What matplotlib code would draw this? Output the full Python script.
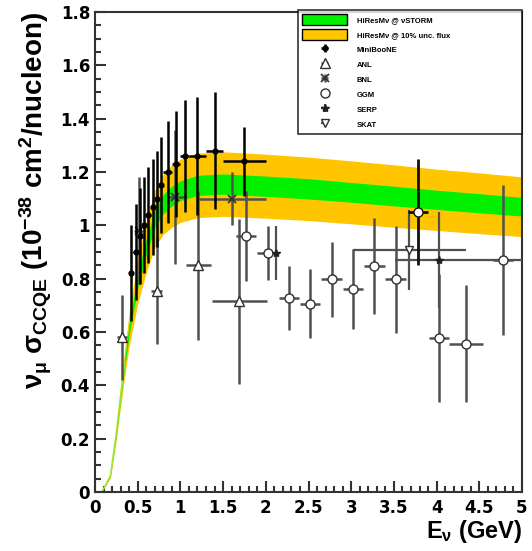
import matplotlib
matplotlib.use("Agg")
import matplotlib.pyplot as plt
from matplotlib.patches import Patch
from matplotlib.ticker import MultipleLocator

plt.rcParams['font.family'] = ['Liberation Sans', 'DejaVu Sans']
plt.rcParams['mathtext.fontset'] = 'custom'
plt.rcParams['mathtext.rm'] = 'Liberation Sans:bold'
plt.rcParams['mathtext.bf'] = 'Liberation Sans:bold'
plt.rcParams['mathtext.it'] = 'Liberation Sans:bold'

# ---- model bands (HiResMnu) ----
band_E = [0.08, 0.18, 0.25, 0.3, 0.35, 0.4, 0.5, 0.6, 0.7, 0.8, 0.9, 1.0, 1.2, 1.5, 2.0, 2.5, 3.0, 3.5, 4.0, 4.5, 5.0]
green_lo = [0, 0.058, 0.213, 0.348, 0.474, 0.590, 0.764, 0.890, 0.991, 1.044, 1.073, 1.093, 1.112, 1.117, 1.109, 1.099, 1.087, 1.073, 1.060, 1.047, 1.035]
green_hi = [0, 0.062, 0.227, 0.372, 0.506, 0.630, 0.816, 0.950, 1.059, 1.116, 1.147, 1.167, 1.188, 1.193, 1.185, 1.175, 1.161, 1.147, 1.132, 1.119, 1.105]
orange_lo = [0, 0.054, 0.197, 0.322, 0.439, 0.546, 0.707, 0.823, 0.917, 0.967, 0.993, 1.011, 1.029, 1.034, 1.027, 1.018, 1.006, 0.993, 0.981, 0.969, 0.958]
orange_hi = [0, 0.066, 0.243, 0.398, 0.541, 0.674, 0.873, 1.017, 1.133, 1.193, 1.227, 1.249, 1.271, 1.276, 1.267, 1.256, 1.242, 1.227, 1.211, 1.197, 1.182]

# ---- MiniBooNE ----
mb_E = [0.425, 0.475, 0.525, 0.575, 0.625, 0.675, 0.725, 0.775, 0.85, 0.95, 1.05, 1.2, 1.4, 1.75]
mb_v = [0.82, 0.90, 0.96, 1.00, 1.04, 1.07, 1.10, 1.15, 1.20, 1.23, 1.26, 1.26, 1.28, 1.24]
mb_xerr = [0.025, 0.025, 0.025, 0.025, 0.025, 0.025, 0.025, 0.025, 0.05, 0.05, 0.05, 0.1, 0.1, 0.25]
mb_yerr = [0.18, 0.18, 0.18, 0.18, 0.18, 0.18, 0.18, 0.18, 0.19, 0.20, 0.21, 0.22, 0.22, 0.13]

# ---- ANL ----
anl_E = [0.32, 0.72, 1.21, 1.69]
anl_v = [0.58, 0.755, 0.85, 0.715]
anl_xerr = [0.06, 0.07, 0.15, 0.32]
anl_yerr = [0.16, 0.20, 0.28, 0.31]

# ---- BNL ----
bnl_E = [0.51, 0.94, 1.6]
bnl_v = [0.98, 1.107, 1.10]
bnl_xerr = [0.05, 0.1, 0.4]
bnl_yerr = [0.2, 0.25, 0.10]

# ---- GGM ----
ggm_E = [1.77, 2.02, 2.27, 2.52, 2.77, 3.02, 3.27, 3.52, 4.03, 4.34, 4.78]
ggm_v = [0.96, 0.897, 0.728, 0.706, 0.798, 0.76, 0.849, 0.798, 0.576, 0.557, 0.87]
ggm_xerr = [0.12, 0.12, 0.12, 0.12, 0.12, 0.12, 0.12, 0.12, 0.12, 0.2, 0.12]
ggm_yerr = [0.17, 0.10, 0.12, 0.13, 0.14, 0.15, 0.18, 0.20, 0.24, 0.22, 0.28]
ggm_hi_E = [3.78]
ggm_hi_v = [1.05]
ggm_hi_xerr = [0.12]
ggm_hi_yerr = [0.20]

# ---- SERP ----
serp_E = [2.12, 4.03]
serp_v = [0.897, 0.87]
serp_xerr = [[0.0, 0.52], [0.0, 0.97]]
serp_yerr = [0.10, 0.18]

# ---- SKAT ----
skat_E = [3.68]
skat_v = [0.907]
skat_xerr = [0.66]
skat_yerr = [0.15]

labels = ["HiResM\u03bd @ \u03bdSTORM", "HiResM\u03bd @ 10% unc. flux", "MiniBooNE", "ANL", "BNL", "GGM", "SERP", "SKAT"]
x_ticks = [0, 0.5, 1, 1.5, 2, 2.5, 3, 3.5, 4, 4.5, 5]
x_ticklabels = ['0', '0.5', '1', '1.5', '2', '2.5', '3', '3.5', '4', '4.5', '5']
y_ticks = [0, 0.2, 0.4, 0.6, 0.8, 1.0, 1.2, 1.4, 1.6, 1.8]
y_ticklabels = ['0', '0.2', '0.4', '0.6', '0.8', '1', '1.2', '1.4', '1.6', '1.8']

fig = plt.figure(figsize=(5.32, 5.51), dpi=100)
ax = fig.add_axes([0.1786, 0.107, 0.8026, 0.8711])

orange = '#FFC600'
green = '#00F000'
ax.fill_between(band_E, orange_lo, orange_hi, color=orange, lw=0, zorder=1)
ax.fill_between(band_E, green_lo, green_hi, color=green, lw=0, zorder=2)
ax.plot(band_E[:5], [(a + b) / 2 for a, b in zip(green_lo[:5], green_hi[:5])], color='#9AE63A', lw=1.2, zorder=2)

gray = '#505050'
mk = dict(mfc='white', mec='#303030', mew=1.0, ms=6.5)
h_anl = ax.errorbar(anl_E, anl_v, xerr=anl_xerr, yerr=anl_yerr, fmt='^', ecolor=gray, elinewidth=1.8, **mk, zorder=4)
h_bnl = ax.errorbar(bnl_E, bnl_v, xerr=bnl_xerr, yerr=bnl_yerr, fmt='x', color='#303030', ecolor=gray, elinewidth=1.8, mew=1.2, ms=6, zorder=4)
h_ggm = ax.errorbar(ggm_E, ggm_v, xerr=ggm_xerr, yerr=ggm_yerr, fmt='o', ecolor=gray, elinewidth=1.8, **mk, zorder=4)
ax.errorbar(ggm_hi_E, ggm_hi_v, xerr=ggm_hi_xerr, yerr=ggm_hi_yerr, fmt='o', ecolor='#111111', elinewidth=2.0,
            mfc='white', mec='#111111', mew=1.0, ms=6.5, zorder=5)
h_serp = ax.errorbar(serp_E, serp_v, xerr=serp_xerr, yerr=serp_yerr, fmt='*', color='#202020', ecolor=gray, elinewidth=1.6, ms=6, zorder=4)
h_skat = ax.errorbar(skat_E, skat_v, xerr=skat_xerr, yerr=skat_yerr, fmt='v', ecolor=gray, elinewidth=1.6, mfc='white', mec='#303030', mew=1.0, ms=5.5, zorder=4)
h_mb = ax.errorbar(mb_E, mb_v, xerr=mb_xerr, yerr=mb_yerr, fmt='o', color='black', ecolor='black', elinewidth=1.8, ms=3.5, zorder=6)

ax.set_xlim(0, 5)
ax.set_ylim(0, 1.8)
ax.xaxis.set_minor_locator(MultipleLocator(0.1))
ax.yaxis.set_minor_locator(MultipleLocator(0.05))
ax.tick_params(which='both', direction='in', top=False, right=False, width=1.5, color='#333333')
ax.tick_params(which='major', length=8)
ax.tick_params(which='minor', length=4.5)
ax.tick_params(axis='x', which='major', pad=5)
ax.tick_params(axis='y', which='major', pad=3.5)
tick_font = dict(family='DejaVu Sans', fontweight='bold', fontsize=12)
ax.set_xticks(x_ticks)
ax.set_xticklabels(x_ticklabels, **tick_font)
ax.set_yticks(y_ticks)
ax.set_yticklabels(y_ticklabels, **tick_font)
for s in ax.spines.values():
    s.set_linewidth(1.5)
    s.set_color('#333333')

ax.set_xlabel(r"E$_{\nu}$ (GeV)", fontsize=17, fontweight='bold', loc='right', labelpad=1)
ax.set_ylabel(r"$\nu_{\mu}$ $\sigma_{CCQE}$ (10$^{-38}$ cm$^{2}$/nucleon)", fontsize=20, fontweight='bold', loc='top', labelpad=5)

handles = [Patch(facecolor=green, edgecolor='black', lw=1.0), Patch(facecolor=orange, edgecolor='black', lw=1.0),
           h_mb, h_anl, h_bnl, h_ggm, h_serp, h_skat]
leg = ax.legend(handles, labels, loc='upper left', bbox_to_anchor=(0.475, 1.004, 0.525, 0.0), mode='expand',
                prop={'weight': 'bold', 'size': 5.5}, frameon=True, fancybox=False, edgecolor='black',
                handlelength=6.0, handleheight=1.8, labelspacing=0.55, borderaxespad=0, borderpad=0.5, handletextpad=1.2)
leg.get_frame().set_linewidth(1.2)
leg.set_zorder(10)

fig.savefig("out.png", dpi=100, facecolor='white')
